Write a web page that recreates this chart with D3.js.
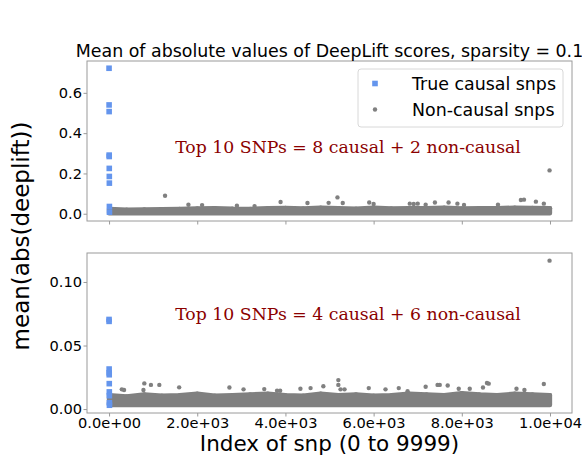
<!DOCTYPE html>
<html>
<head>
<meta charset="utf-8">
<script src="https://cdn.jsdelivr.net/npm/d3@7"></script>
<style>
  body { margin: 0; background: #fff; }
  text { font-family: "DejaVu Sans", sans-serif; }
</style>
</head>
<body>
<div id="chart"></div>
<script>
// x ticks shared by both panels
var xTicks = [0, 2000, 4000, 6000, 8000, 10000];
var xTickLabels = ["0.0e+00", "2.0e+03", "4.0e+03", "6.0e+03", "8.0e+03", "1.0e+04"];

// top panel (DeepLift, sparsity 0.1)
var topYTicks = [0, 0.2, 0.4, 0.6];
var topYTickLabels = ["0.0", "0.2", "0.4", "0.6"];
var topCausalIdx = [0, 1, 2, 3, 4, 5, 6, 7, 8, 9];
var topCausalVal = [0.722, 0.540, 0.507, 0.291, 0.284, 0.225, 0.185, 0.152, 0.036, 0.008];
// dense band of non-causal snps: upper edge read every 400 indices, lower edge flat
var bandIdx = [0, 400, 800, 1200, 1600, 2000, 2400, 2800, 3200, 3600, 4000, 4400, 4800,
               5200, 5600, 6000, 6400, 6800, 7200, 7600, 8000, 8400, 8800, 9200, 9600, 9999];
var topBandHigh = [0.024, 0.020, 0.021, 0.022, 0.024, 0.026, 0.028, 0.025, 0.024, 0.027, 0.029, 0.026, 0.030,
                   0.028, 0.025, 0.030, 0.026, 0.028, 0.027, 0.030, 0.026, 0.027, 0.028, 0.030, 0.029, 0.027];
var topBandLow = 0.002;
// non-causal snps sticking out of the band
var topOutIdx = [1270, 1800, 2110, 2900, 3300, 3890, 4500, 4980, 5180, 5300, 5900, 6000, 6820, 6910,
                 7000, 7180, 7390, 7700, 7900, 8050, 8820, 9340, 9410, 9680, 9860, 9990];
var topOutVal = [0.089, 0.045, 0.043, 0.040, 0.038, 0.058, 0.053, 0.054, 0.081, 0.053, 0.056, 0.048, 0.050, 0.048,
                 0.050, 0.045, 0.056, 0.056, 0.050, 0.044, 0.045, 0.068, 0.070, 0.060, 0.050, 0.215];

// bottom panel
var botYTicks = [0, 0.05, 0.10];
var botYTickLabels = ["0.00", "0.05", "0.10"];
var botCausalIdx = [0, 1, 2, 3, 4, 5, 6, 7, 8, 9];
var botCausalVal = [0.0705, 0.0690, 0.0315, 0.0285, 0.0270, 0.0200, 0.0135, 0.0105, 0.0050, 0.0030];
var botBandHigh = [0.0110, 0.0100, 0.0115, 0.0105, 0.0110, 0.0120, 0.0105, 0.0110, 0.0115, 0.0120, 0.0110, 0.0105, 0.0120,
                   0.0110, 0.0115, 0.0105, 0.0110, 0.0120, 0.0115, 0.0110, 0.0125, 0.0115, 0.0110, 0.0120, 0.0115, 0.0110];
var botBandLow = 0.0032;
var botOutIdx = [290, 340, 780, 800, 950, 1140, 1590, 2730, 3050, 3520, 3810, 3880, 4340, 4570, 4860, 5200, 5200,
                 5250, 5340, 5890, 6270, 6570, 6770, 7180, 7450, 7500, 7680, 7930, 8180, 8480, 8570, 8610, 9240,
                 9420, 9860, 9990];
var botOutVal = [0.0155, 0.0150, 0.0150, 0.0202, 0.0190, 0.0190, 0.0171, 0.0170, 0.0155, 0.0157, 0.0144, 0.0144,
                 0.0160, 0.0165, 0.0180, 0.0228, 0.0190, 0.0155, 0.0155, 0.0165, 0.0155, 0.0165, 0.0140, 0.0176,
                 0.0190, 0.0190, 0.0185, 0.0160, 0.0160, 0.0170, 0.0205, 0.0200, 0.0160, 0.0150, 0.0197, 0.1168];

var notes = ["Top 10 SNPs = 8 causal + 2 non-causal", "Top 10 SNPs = 4 causal + 6 non-causal"];
var noteY = [0.3, 0.07];
var noteX = 1500;
var legendLabels = ["True causal snps", "Non-causal snps"];

var width = 582, height = 457;
var blue = "#6495ed", grey = "#808080", spine = "#9a9a9a";

var svg = d3.select("#chart").append("svg")
    .attr("width", width)
    .attr("height", height);

var x = d3.scaleLinear().domain([-500, 10499]).range([87, 572]);

var panels = [
    { top: 61, bottom: 221, domain: [-0.036, 0.758], yTicks: topYTicks, yLabels: topYTickLabels,
      cIdx: topCausalIdx, cVal: topCausalVal, bHigh: topBandHigh, bLow: topBandLow,
      oIdx: topOutIdx, oVal: topOutVal, showX: false },
    { top: 253, bottom: 413, domain: [-0.0031, 0.1228], yTicks: botYTicks, yLabels: botYTickLabels,
      cIdx: botCausalIdx, cVal: botCausalVal, bHigh: botBandHigh, bLow: botBandLow,
      oIdx: botOutIdx, oVal: botOutVal, showX: true }
];

panels.forEach(function(p, pi) {
    var y = d3.scaleLinear().domain(p.domain).range([p.bottom, p.top]);
    var g = svg.append("g");

    // axes
    var xAxis = d3.axisBottom(x).tickValues(xTicks).tickSize(3.5).tickPadding(1.5)
        .tickFormat(function(d, i) { return p.showX ? xTickLabels[i] : ""; });
    var gx = g.append("g").attr("transform", "translate(0," + p.bottom + ")").call(xAxis);
    var yAxis = d3.axisLeft(y).tickValues(p.yTicks).tickSize(3.5).tickPadding(1.5)
        .tickFormat(function(d, i) { return p.yLabels[i]; });
    var gy = g.append("g").attr("transform", "translate(" + x.range()[0] + ",0)").call(yAxis);
    [gx, gy].forEach(function(a) {
        a.select(".domain").remove();
        a.selectAll(".tick line").attr("stroke", spine);
        a.selectAll(".tick text").attr("fill", "#000")
            .style("font-family", "DejaVu Sans").style("font-size", "14.6px");
    });

    // band of non-causal snps
    var area = d3.area()
        .x(function(d) { return x(d); })
        .y0(y(p.bLow))
        .y1(function(d, i) { return y(p.bHigh[i]); });
    g.append("path")
        .datum(bandIdx)
        .attr("d", area)
        .attr("fill", grey)
        .attr("stroke", grey)
        .attr("stroke-width", 4.4)
        .attr("stroke-linejoin", "round");
    g.selectAll(".edge")
        .data(bandIdx)
        .enter().append("circle")
        .attr("cx", function(d) { return x(d); })
        .attr("cy", function(d, i) { return y(p.bHigh[i]); })
        .attr("r", 2.2)
        .attr("fill", grey);

    g.selectAll(".out")
        .data(p.oIdx)
        .enter().append("circle")
        .attr("cx", function(d) { return x(d); })
        .attr("cy", function(d, i) { return y(p.oVal[i]); })
        .attr("r", 2.2)
        .attr("fill", grey);

    // causal snps
    g.selectAll(".causal")
        .data(p.cIdx)
        .enter().append("rect")
        .attr("x", function(d) { return x(d) - 2.8; })
        .attr("y", function(d, i) { return y(p.cVal[i]) - 2.8; })
        .attr("width", 5.6)
        .attr("height", 5.6)
        .attr("fill", blue);

    // frame
    g.append("rect")
        .attr("x", x.range()[0])
        .attr("y", p.top)
        .attr("width", x.range()[1] - x.range()[0])
        .attr("height", p.bottom - p.top)
        .attr("fill", "none")
        .attr("stroke", spine)
        .attr("stroke-width", 1);

    g.append("text")
        .attr("x", x(noteX))
        .attr("y", y(noteY[pi]))
        .attr("fill", "#8b0000")
        .style("font-family", "DejaVu Serif, serif")
        .style("font-size", "17.3px")
        .text(notes[pi]);
});

// title
svg.append("text")
    .attr("x", (x.range()[0] + x.range()[1]) / 2)
    .attr("y", 57)
    .attr("text-anchor", "middle")
    .style("font-size", "17.4px")
    .text("Mean of absolute values of DeepLift scores, sparsity = 0.1");

// legend
var lg = svg.append("g");
lg.append("rect")
    .attr("x", 358).attr("y", 69)
    .attr("width", 205).attr("height", 58)
    .attr("rx", 3)
    .attr("fill", "#fff").attr("fill-opacity", 0.8)
    .attr("stroke", "#d8d8d8");
lg.append("rect")
    .attr("x", 375 - 2.8).attr("y", 83.5 - 2.8)
    .attr("width", 5.6).attr("height", 5.6)
    .attr("fill", blue);
lg.append("circle")
    .attr("cx", 375).attr("cy", 109.5).attr("r", 2.2)
    .attr("fill", grey);
lg.selectAll(".lt")
    .data(legendLabels)
    .enter().append("text")
    .attr("x", 412)
    .attr("y", function(d, i) { return 90 + i * 26; })
    .style("font-size", "17.4px")
    .text(function(d) { return d; });

// axis labels
svg.append("text")
    .attr("x", (x.range()[0] + x.range()[1]) / 2)
    .attr("y", 451)
    .attr("text-anchor", "middle")
    .style("font-size", "21.5px")
    .text("Index of snp (0 to 9999)");
svg.append("text")
    .attr("transform", "translate(29,236) rotate(-90)")
    .attr("text-anchor", "middle")
    .style("font-size", "23px")
    .text("mean(abs(deeplift))");
</script>
</body>
</html>
